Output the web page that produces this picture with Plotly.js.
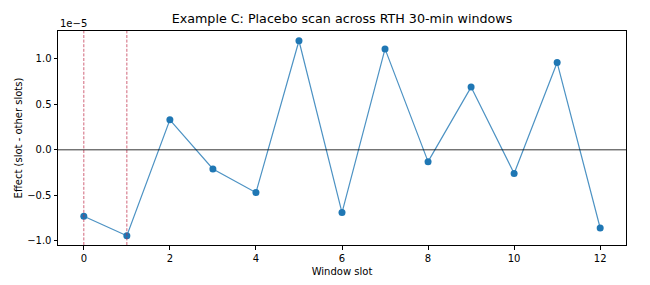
<!DOCTYPE html>
<html><head><meta charset="utf-8">
<script src="https://cdn.plot.ly/plotly-3.0.1.min.js"></script>
<style>html,body{margin:0;padding:0;background:#fff}#c{width:650px;height:285px}</style>
</head><body><div id="c"></div>
<script>
const slots = [0,1,2,3,4,5,6,7,8,9,10,11,12];
const effects = [-0.73e-5,-0.945e-5,0.33e-5,-0.21e-5,-0.47e-5,1.20e-5,-0.69e-5,1.11e-5,-0.13e-5,0.69e-5,-0.26e-5,0.96e-5,-0.86e-5];
const markedSlots = [0,1];
const yTickVals = [-1.0e-5,-0.5e-5,0,0.5e-5,1.0e-5];
const yTickText = ["\u22121.0","\u22120.5","0.0","0.5","1.0"];
const xTickVals = [0,2,4,6,8,10,12];

const shapes = markedSlots.map(s => ({type:'line', xref:'x', yref:'paper', x0:s, x1:s, y0:0, y1:1,
  line:{color:'rgba(190,40,70,0.8)', width:0.9, dash:'3px,1.6px'}}));
shapes.push({type:'line', xref:'paper', yref:'y', x0:0, x1:1, y0:0, y1:0, line:{color:'#000', width:0.8}});

const trace = {x:slots, y:effects, mode:'lines+markers', type:'scatter',
  line:{color:'rgba(31,119,180,0.8)', width:1.2},
  marker:{color:'#1f77b4', size:7}};

const layout = {
  width:650, height:285,
  margin:{l:58, r:24, t:31, b:40},
  paper_bgcolor:'#fff', plot_bgcolor:'#fff',
  font:{family:'DejaVu Sans', size:10, color:'#000'},
  showlegend:false,
  title:{text:'Example C: Placebo scan across RTH 30-min windows', font:{size:12.7}, x:0.5, xanchor:'center', y:0.95, yanchor:'top', xref:'paper'},
  xaxis:{range:[-0.6,12.6], tickvals:xTickVals, ticks:'outside', ticklen:3.5, tickcolor:'#000',
    showgrid:false, zeroline:false, showline:true, mirror:true, linecolor:'#000', linewidth:1,
    title:{text:'Window slot', font:{size:10}, standoff:5}},
  yaxis:{range:[-1.047e-5,1.307e-5], tickvals:yTickVals, ticktext:yTickText, ticks:'outside', ticklen:3.5, tickcolor:'#000',
    showgrid:false, zeroline:false, showline:true, mirror:true, linecolor:'#000', linewidth:1,
    title:{text:'Effect (slot - other slots)', font:{size:10}, standoff:2}},
  shapes:shapes,
  annotations:[{text:'1e\u22125', xref:'paper', yref:'paper', x:0, y:1, xanchor:'left', yanchor:'bottom', showarrow:false, font:{size:10}, yshift:0}]
};
Plotly.newPlot('c',[trace],layout,{displayModeBar:false,staticPlot:true});
</script></body></html>
